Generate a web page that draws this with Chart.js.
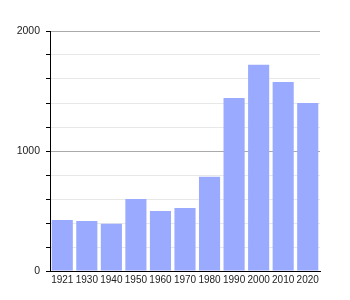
<!DOCTYPE html>
<html>
<head>
<meta charset="utf-8">
<script src="https://cdn.jsdelivr.net/npm/chart.js@4"></script>
<style>
  html, body { margin: 0; padding: 0; background: #fff; }
  #wrap { width: 350px; height: 300px; }
</style>
</head>
<body>
<div id="wrap"><canvas id="chart"></canvas></div>
<script>
const years = ['1921', '1930', '1940', '1950', '1960', '1970', '1980', '1990', '2000', '2010', '2020'];
const population = [425, 417, 394, 600, 500, 525, 786, 1442, 1719, 1575, 1400];
const labelledTicks = [0, 1000, 2000];

const barColor = '#99aaff';

new Chart(document.getElementById('chart'), {
  type: 'bar',
  data: {
    labels: years,
    datasets: [{
      data: population,
      backgroundColor: barColor,
      borderWidth: 0,
      categoryPercentage: 0.86,
      barPercentage: 1
    }]
  },
  options: {
    responsive: true,
    maintainAspectRatio: false,
    animation: false,
    layout: { padding: { top: 31, right: 30, left: 0, bottom: 0 } },
    plugins: { legend: { display: false }, tooltip: { enabled: false } },
    scales: {
      x: {
        grid: { display: false, drawTicks: false },
        border: { color: '#000', width: 1 },
        ticks: {
          color: '#222',
          font: { family: 'Liberation Sans, Arial, sans-serif', size: 10 },
          padding: 3,
          maxRotation: 0,
          autoSkip: false
        },
        afterFit: (s) => { s.height = 29; }
      },
      y: {
        min: 0,
        max: 2000,
        grid: {
          color: (ctx) => labelledTicks.includes(ctx.tick.value) ? '#aaaaaa' : '#e8e8e8',
          tickColor: '#000',
          tickLength: 4
        },
        border: { color: '#000', width: 1 },
        ticks: {
          stepSize: 200,
          color: '#222',
          font: { family: 'Liberation Sans, Arial, sans-serif', size: 10.5 },
          padding: 6,
          callback: (v) => labelledTicks.includes(v) ? String(v) : ''
        },
        afterFit: (s) => { s.width = 50; }
      }
    }
  }
});
</script>
</body>
</html>
